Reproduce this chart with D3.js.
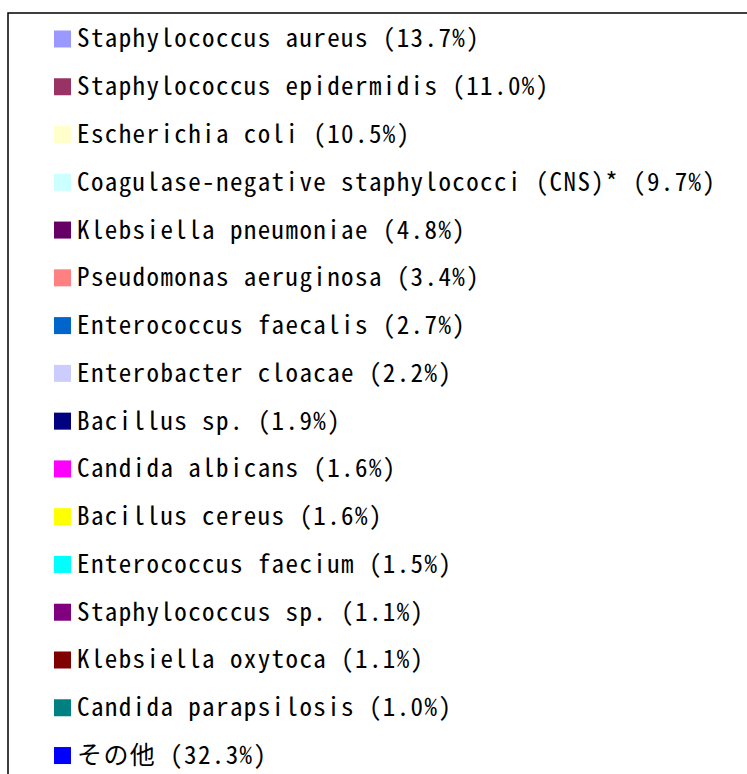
<!DOCTYPE html>
<html>
<head>
<meta charset="utf-8">
<script src="https://cdn.jsdelivr.net/npm/d3@7"></script>
<style>
  body { margin: 0; background: #fff; }
  svg { display: block; }
</style>
</head>
<body>
<div id="chart"></div>
<script>
const names = ['Staphylococcus aureus', 'Staphylococcus epidermidis', 'Escherichia coli',
  'Coagulase-negative staphylococci (CNS)*', 'Klebsiella pneumoniae', 'Pseudomonas aeruginosa',
  'Enterococcus faecalis', 'Enterobacter cloacae', 'Bacillus sp.', 'Candida albicans',
  'Bacillus cereus', 'Enterococcus faecium', 'Staphylococcus sp.', 'Klebsiella oxytoca',
  'Candida parapsilosis', 'その他'];
const shares = [13.7, 11.0, 10.5, 9.7, 4.8, 3.4, 2.7, 2.2, 1.9, 1.6, 1.6, 1.5, 1.1, 1.1, 1.0, 32.3];
const colors = ['#9999ff', '#993366', '#ffffcc', '#ccffff', '#660066', '#ff8080', '#0066cc', '#ccccff',
  '#000080', '#ff00ff', '#ffff00', '#00ffff', '#800080', '#800000', '#008080', '#0000ff'];

const width = 747;
const height = 774;
const svg = d3.select('#chart').append('svg')
  .attr('width', width)
  .attr('height', height);

// legend frame, runs off the right and bottom edge
svg.append('rect')
  .attr('x', 8).attr('y', 13)
  .attr('width', 800).attr('height', 820)
  .attr('fill', 'none')
  .attr('stroke', '#000')
  .attr('stroke-width', 1.5);

const yScale = d3.scaleBand()
  .domain(names)
  .range([15.1, 15.1 + 47.77 * names.length]);
const color = d3.scaleOrdinal().domain(names).range(colors);
const pct = d3.format('.1f');

const rows = svg.selectAll('.row')
  .data(names)
  .join('g').attr('class', 'row')
  .attr('transform', d => `translate(0,${yScale(d) + yScale.bandwidth() / 2})`);

rows.append('rect')
  .attr('x', 54).attr('y', -8.5)
  .attr('width', 17).attr('height', 17)
  .attr('fill', d => color(d));

rows.append('text')
  .attr('x', 77).attr('y', 8.5)
  .attr('font-family', '"Noto Sans Mono CJK JP", "Liberation Mono", monospace')
  .attr('font-size', 25)
  .attr('letter-spacing', 1.4)
  .attr('fill', '#000')
  .text((d, i) => `${d} (${pct(shares[i])}%)`);
</script>
</body>
</html>
